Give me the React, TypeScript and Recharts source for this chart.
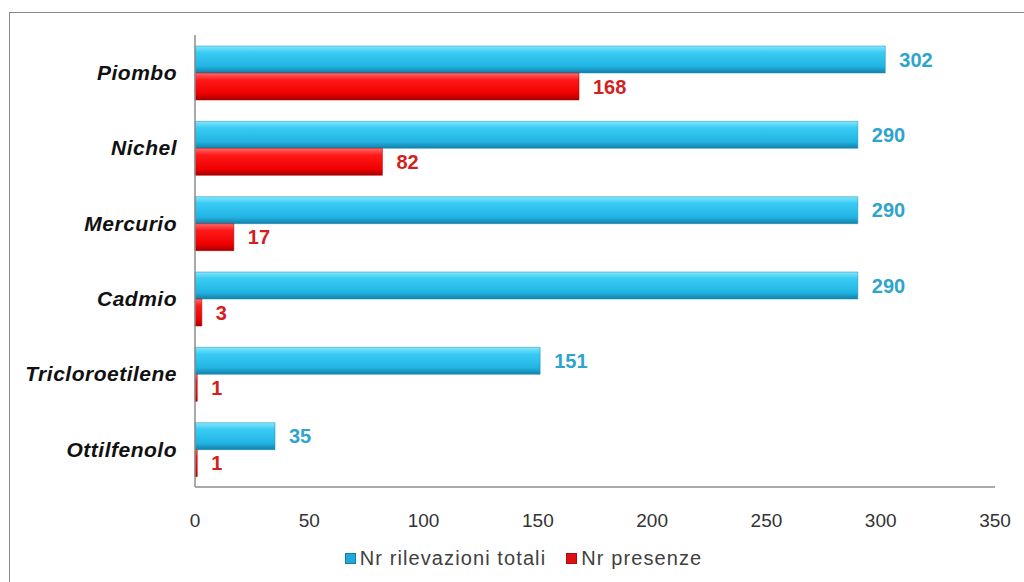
import React from "react"
import { BarChart, Bar, XAxis, YAxis, Legend, LabelList } from "recharts"

const categories = ["Piombo", "Nichel", "Mercurio", "Cadmio", "Tricloroetilene", "Ottilfenolo"]
const totali = [302, 290, 290, 290, 151, 35]
const presenze = [168, 82, 17, 3, 1, 1]
const xTicks = [0, 50, 100, 150, 200, 250, 300, 350]

const seriesNames = { totali: "Nr rilevazioni totali", presenze: "Nr presenze" }

const data = categories.map((name, i) => ({
  name,
  totali: totali[i],
  presenze: presenze[i],
}))

const FONT = "'Liberation Sans', Arial, sans-serif"

function LegendContent() {
  const items = [
    { label: seriesNames.totali, solid: "#1fa9d8" },
    { label: seriesNames.presenze, solid: "#e01010" },
  ]
  return (
    <div
      style={{
        height: 43,
        boxSizing: "border-box",
        paddingTop: 19,
        paddingLeft: 52,
        display: "flex",
        justifyContent: "center",
        fontFamily: FONT,
        fontSize: 20,
        letterSpacing: 1.1,
        lineHeight: "24px",
        color: "#404040",
      }}
    >
      {items.map((it, i) => (
        <span key={i} style={{ display: "flex", alignItems: "center", marginRight: i === 0 ? 20 : 0 }}>
          <span
            style={{
              width: 9,
              height: 9,
              background: it.solid,
              border: "1px solid rgba(0,0,0,0.25)",
              marginRight: 4,
              display: "inline-block",
            }}
          />
          {it.label}
        </span>
      ))}
    </div>
  )
}

export default function App() {
  return (
    <div style={{ position: "absolute", left: 0, top: 0, width: 1024, height: 582, background: "#fff", overflow: "hidden" }}>
      <div
        style={{
          position: "absolute",
          left: 9,
          top: 12,
          width: 1040,
          height: 600,
          borderLeft: "1.5px solid #8a8a8a",
          borderTop: "1.5px solid #8a8a8a",
        }}
      />
      <div style={{ position: "absolute", left: 0, top: 0 }}>
        <BarChart
          width={1024}
          height={582}
          data={data}
          layout="vertical"
          margin={{ top: 35, right: 29, bottom: 12, left: 0 }}
          barSize={27}
          barGap={0}
        >
          <defs>
            <linearGradient id="blueGrad" x1="0" y1="0" x2="0" y2="1">
              <stop offset="0%" stopColor="#85e6fc" />
              <stop offset="25%" stopColor="#38cbf3" />
              <stop offset="75%" stopColor="#22b5e4" />
              <stop offset="100%" stopColor="#137fa8" />
            </linearGradient>
            <linearGradient id="redGrad" x1="0" y1="0" x2="0" y2="1">
              <stop offset="0%" stopColor="#ff6a6a" />
              <stop offset="25%" stopColor="#ff1a1a" />
              <stop offset="75%" stopColor="#f00000" />
              <stop offset="100%" stopColor="#a80000" />
            </linearGradient>
          </defs>
          <XAxis
            type="number"
            domain={[0, 350]}
            ticks={xTicks}
            tickLine={false}
            axisLine={{ stroke: "#8c8c8c", strokeWidth: 1.5 }}
            tickMargin={21}
            height={40}
            tick={{ fill: "#333", fontSize: 19, fontFamily: FONT }}
          />
          <YAxis
            type="category"
            dataKey="name"
            width={195}
            tickLine={false}
            axisLine={{ stroke: "#8c8c8c", strokeWidth: 1.5 }}
            tickMargin={12}
            tick={{ fill: "#111", fontSize: 21, fontFamily: FONT, fontWeight: "bold", fontStyle: "italic", letterSpacing: 0.5 }}
          />
          <Legend verticalAlign="bottom" content={() => <LegendContent />} />
          <Bar dataKey="totali" name={seriesNames.totali} fill="url(#blueGrad)" stroke="#1590b8" strokeWidth={0.5} isAnimationActive={false}>
            <LabelList
              dataKey="totali"
              position="right"
              offset={14}
              style={{ fill: "#2fa4cc", fontSize: 20, fontWeight: "bold", fontFamily: FONT }}
            />
          </Bar>
          <Bar dataKey="presenze" name={seriesNames.presenze} fill="url(#redGrad)" stroke="#a00000" strokeWidth={0.5} isAnimationActive={false}>
            <LabelList
              dataKey="presenze"
              position="right"
              offset={14}
              style={{ fill: "#d41f1f", fontSize: 20, fontWeight: "bold", fontFamily: FONT }}
            />
          </Bar>
        </BarChart>
      </div>
    </div>
  )
}
